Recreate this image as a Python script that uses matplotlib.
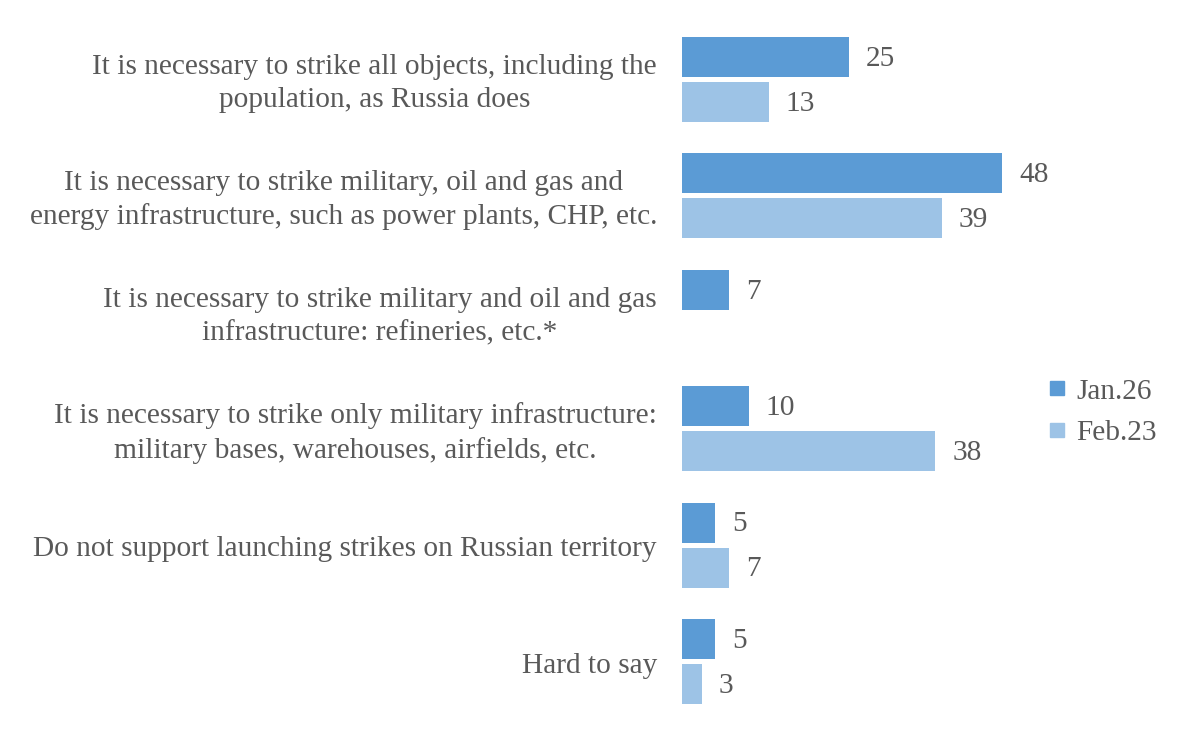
import matplotlib
matplotlib.use("Agg")
import matplotlib.pyplot as plt
from matplotlib.lines import Line2D
import numpy as np

categories = [
    "It is necessary to strike all objects, including the\npopulation, as Russia does",
    "It is necessary to strike military, oil and gas and\nenergy infrastructure, such as power plants, CHP, etc.",
    "It is necessary to strike military and oil and gas\ninfrastructure: refineries, etc.*",
    "It is necessary to strike only military infrastructure:\nmilitary bases, warehouses, airfields, etc.",
    "Do not support launching strikes on Russian territory",
    "Hard to say",
]
jan26 = [25, 48, 7, 10, 5, 5]
feb23 = [13, 39, None, 38, 7, 3]
series_names = ["Jan.26", "Feb.23"]
colors = ["#5B9BD5", "#9DC3E6"]
text_color = "#595959"

plt.rcParams['font.family'] = ['Liberation Serif', 'DejaVu Serif']
FS = 21.2

W, H = 1184, 734
fig = plt.figure(figsize=(W / 100, H / 100), dpi=100)
x0, x48 = 682, 1002
top, bottom = 21.3, 719.7
ax = fig.add_axes([x0 / W, 1 - bottom / H, (x48 - x0) / W, (bottom - top) / H])
ax.set_xlim(0, 48)
ax.set_ylim(len(categories) - 0.5, -0.5)
ax.axis("off")

bh = 40 / 116.4
off = 22.5 / 116.4
px_per_unit = (x48 - x0) / 48
gap = 17 / px_per_unit

y = np.arange(len(categories))
for vals, sgn, col in [(jan26, -1, colors[0]), (feb23, 1, colors[1])]:
    for i, v in enumerate(vals):
        if v is None:
            continue
        ax.barh(y[i] + sgn * off, v, height=bh, color=col, clip_on=False)
        ax.text(v + gap, y[i] + sgn * off + 0.015, str(v), ha="left", va="center",
                fontsize=FS, color=text_color, clip_on=False)

for i, c in enumerate(categories):
    ax.text(-25 / px_per_unit, y[i] + 0.035, c, ha="right", va="center", multialignment="center",
            fontsize=FS, color=text_color, linespacing=1.38, clip_on=False)

handles = [Line2D([], [], marker="s", linestyle="none", markersize=10,
                  markerfacecolor=colors[k], markeredgecolor=colors[k]) for k in range(2)]
fig.legend(handles, series_names, loc="center left", bbox_to_anchor=(1020 / W, 1 - 412 / H),
           frameon=False, fontsize=FS, labelcolor=text_color, handlelength=0.7,
           handletextpad=0.3, labelspacing=0.5)

fig.savefig("out.png", dpi=100)
